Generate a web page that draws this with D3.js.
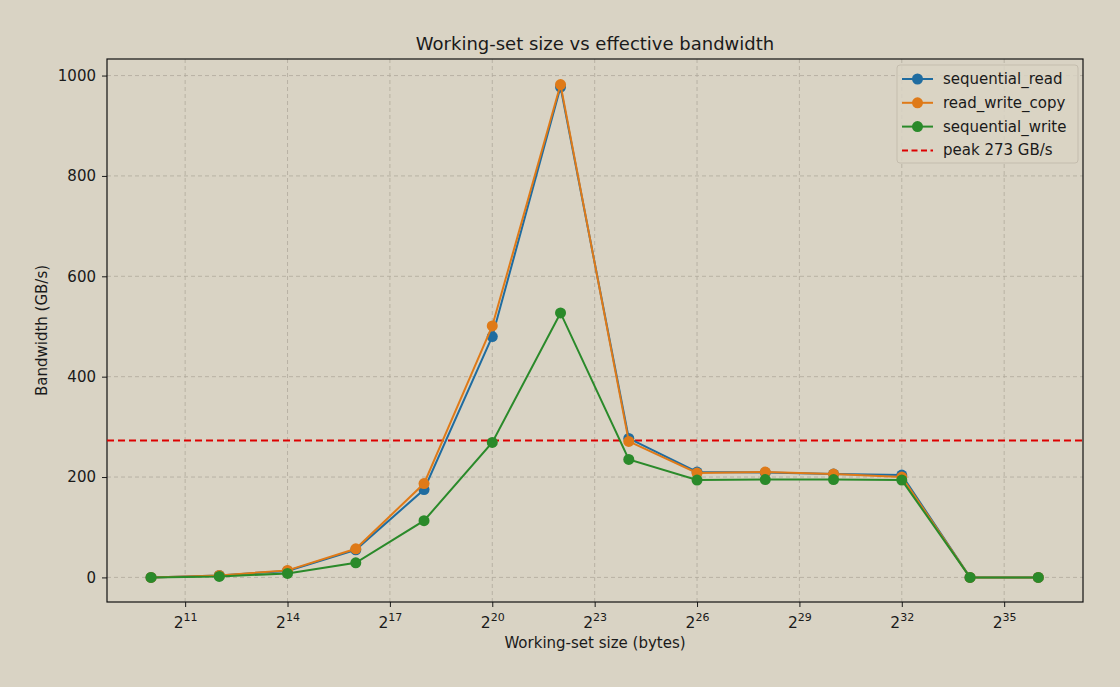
<!DOCTYPE html>
<html>
<head>
<meta charset="utf-8">
<script src="https://cdn.jsdelivr.net/npm/d3@7"></script>
<style>
  body { margin: 0; background: #d9d3c4; }
  svg { font-family: "DejaVu Sans", sans-serif; }
</style>
</head>
<body>
<div id="chart"></div>
<script>
// working-set sizes as powers of two
const sizeExp = [10, 12, 14, 16, 18, 20, 22, 24, 26, 28, 30, 32, 34, 36];
const seqRead = [0, 4, 13, 55, 175, 480, 977, 277, 210, 209, 206, 204, 0, 0];
const rwCopy = [0, 4, 14, 57, 187, 501, 982, 271, 208, 210, 206, 200, 0, 0];
const seqWrite = [0, 2, 8, 29, 113, 269, 527, 235, 194, 195, 195, 194, 0, 0];
const peakBw = 273;
const xTickExp = [11, 14, 17, 20, 23, 26, 29, 32, 35];
const yTicks = [0, 200, 400, 600, 800, 1000];

const width = 1120, height = 687;
const margin = { top: 59, right: 37, bottom: 85, left: 107 };
const innerW = width - margin.left - margin.right;
const innerH = height - margin.top - margin.bottom;
const bg = "#d9d3c4";

const svg = d3.select("#chart")
    .append("svg")
    .attr("width", width)
    .attr("height", height)
    .style("background", bg);

const g = svg.append("g")
    .attr("transform", `translate(${margin.left},${margin.top})`);

// log2 axis, drawn on exponent values
const xScale = d3.scaleLinear()
    .domain([8.71, 37.31])
    .range([0, innerW]);

const yScale = d3.scaleLinear()
    .domain([-49, 1033])
    .range([innerH, 0]);

// grid
g.append("g")
    .selectAll("line")
    .data(xTickExp)
    .join("line")
    .attr("x1", d => xScale(d)).attr("x2", d => xScale(d))
    .attr("y1", 0).attr("y2", innerH)
    .attr("stroke", "#b0aa9c")
    .attr("stroke-width", 0.8)
    .attr("stroke-dasharray", "4,3");

g.append("g")
    .selectAll("line")
    .data(yTicks)
    .join("line")
    .attr("x1", 0).attr("x2", innerW)
    .attr("y1", d => yScale(d)).attr("y2", d => yScale(d))
    .attr("stroke", "#b0aa9c")
    .attr("stroke-width", 0.8)
    .attr("stroke-dasharray", "4,3");

// axes
const yAxis = d3.axisLeft(yScale).tickValues(yTicks).tickFormat(d3.format("d")).tickSize(5).tickPadding(6);
const yG = g.append("g").call(yAxis);
yG.select(".domain").remove();
yG.selectAll("text").attr("font-size", 15).attr("fill", "#1a1a1a").attr("font-family", "DejaVu Sans");
yG.selectAll("line").attr("stroke", "#1a1a1a");

const xAxis = d3.axisBottom(xScale).tickValues(xTickExp).tickSize(5).tickFormat("");
const xG = g.append("g").attr("transform", `translate(0,${innerH})`).call(xAxis);
xG.select(".domain").remove();
xG.selectAll("line").attr("stroke", "#1a1a1a");
xG.selectAll(".tick").each(function(d) {
    const t = d3.select(this).append("text")
        .attr("y", 26)
        .attr("fill", "#1a1a1a")
        .attr("text-anchor", "middle")
        .attr("font-size", 15.5)
        .attr("font-family", "DejaVu Sans");
    t.append("tspan").text("2");
    t.append("tspan").attr("dy", -7).attr("font-size", 11).text(d);
});

// frame
g.append("rect")
    .attr("width", innerW).attr("height", innerH)
    .attr("fill", "none")
    .attr("stroke", "#111")
    .attr("stroke-width", 1.2);

// peak line
g.append("line")
    .attr("x1", 0).attr("x2", innerW)
    .attr("y1", yScale(peakBw)).attr("y2", yScale(peakBw))
    .attr("stroke", "#dd0000")
    .attr("stroke-width", 2)
    .attr("stroke-dasharray", "7,4");

const series = [
    { label: "sequential_read", color: "#1f6ca0", values: seqRead },
    { label: "read_write_copy", color: "#df7a18", values: rwCopy },
    { label: "sequential_write", color: "#2a8a2a", values: seqWrite }
];

const line = d3.line()
    .x(d => xScale(d.e))
    .y(d => yScale(d.v));

series.forEach(s => {
    const pts = sizeExp.map((e, i) => ({ e, v: s.values[i] }));
    g.append("path")
        .datum(pts)
        .attr("fill", "none")
        .attr("stroke", s.color)
        .attr("stroke-width", 2)
        .attr("d", line);
    g.append("g")
        .selectAll("circle")
        .data(pts)
        .join("circle")
        .attr("cx", d => xScale(d.e))
        .attr("cy", d => yScale(d.v))
        .attr("r", 5.5)
        .attr("fill", s.color);
});

// title and labels
svg.append("text")
    .attr("x", margin.left + innerW / 2)
    .attr("y", 50)
    .attr("text-anchor", "middle")
    .attr("font-size", 18)
    .attr("fill", "#1a1a1a")
    .text("Working-set size vs effective bandwidth");

svg.append("text")
    .attr("x", margin.left + innerW / 2)
    .attr("y", 648)
    .attr("text-anchor", "middle")
    .attr("font-size", 15)
    .attr("fill", "#1a1a1a")
    .text("Working-set size (bytes)");

svg.append("text")
    .attr("transform", `translate(47,${margin.top + innerH / 2}) rotate(-90)`)
    .attr("text-anchor", "middle")
    .attr("font-size", 15)
    .attr("fill", "#1a1a1a")
    .text("Bandwidth (GB/s)");

// legend
const legend = svg.append("g").attr("transform", "translate(897,65)");
legend.append("rect")
    .attr("width", 181).attr("height", 98)
    .attr("rx", 3)
    .attr("fill", bg)
    .attr("fill-opacity", 0.85)
    .attr("stroke", "#c4bdae");

const legendItems = series.map(s => ({ label: s.label, color: s.color, dashed: false }))
    .concat([{ label: `peak ${peakBw} GB/s`, color: "#dd0000", dashed: true }]);

legendItems.forEach((it, i) => {
    const y = 14 + i * 23.8;
    legend.append("line")
        .attr("x1", 5).attr("x2", 36)
        .attr("y1", y).attr("y2", y)
        .attr("stroke", it.color)
        .attr("stroke-width", 2)
        .attr("stroke-dasharray", it.dashed ? "6,3.5" : null);
    if (!it.dashed) {
        legend.append("circle").attr("cx", 20.5).attr("cy", y).attr("r", 5.5).attr("fill", it.color);
    }
    legend.append("text")
        .attr("x", 46).attr("y", y + 5)
        .attr("font-size", 15)
        .attr("fill", "#1a1a1a")
        .text(it.label);
});
</script>
</body>
</html>
